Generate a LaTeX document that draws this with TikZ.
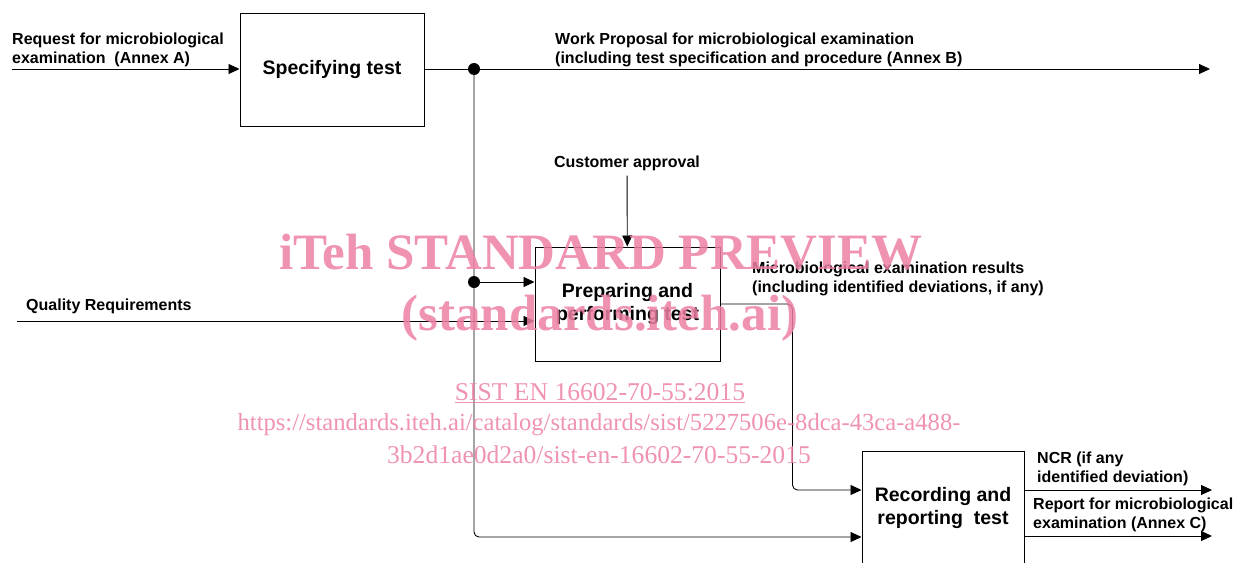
\documentclass[tikz,border=0pt]{standalone}
\usepackage{fontspec}
\setmainfont{Liberation Sans}
\newfontfamily\wmfont{Liberation Serif}
\usepackage{xcolor}
\usepackage{tikz}
\usetikzlibrary{positioning, calc, arrows.meta}

\definecolor{wmpink}{RGB}{236,128,162}
\newcommand{\lblfont}{\bfseries\fontsize{16}{18.5}\selectfont}
\newcommand{\boxfont}{\bfseries\fontsize{19.5}{23.5}\selectfont}

\begin{document}
\begin{tikzpicture}[
        x=1pt, y=-1pt,
        procbox/.style={draw, line width=1pt, align=center, inner sep=0pt, font=\boxfont},
        lbl/.style={align=left, inner sep=0pt, anchor=base west, font=\lblfont},
        flow/.style={line width=0.9pt, -{Triangle[length=11pt,width=10pt]}},
        jdot/.style={circle, fill, inner sep=0pt, minimum size=12pt},
        wmark/.style={text=wmpink, opacity=0.85, inner sep=0pt, anchor=base}
    ]
                \useasboundingbox (0,0) rectangle (1246,562);

                \node[procbox, minimum width=184pt, minimum height=113pt] (spec) at (332,69.5) {Specifying test};
                \node[procbox, minimum width=185pt, minimum height=114pt] (prep) at (627.5,304) {Preparing and\\performing test};
                \node[procbox, minimum width=162pt, minimum height=114pt] (rec) at (943,508) {Recording and\\reporting\ \ test};

                \node[lbl] (reqlbl) at (12,63) {Request for microbiological\\examination\ \ (Annex A)};
                \node[lbl] (wplbl) at (555,63) {Work Proposal for microbiological examination\\(including test specification and procedure (Annex B)};
                \node[lbl, anchor=base] (apprlbl) at (627,167) {Customer approval};
                \node[lbl] (qlbl) at (26,310) {Quality Requirements};
                \node[lbl] (reslbl) at (752,292) {Microbiological examination results\\(including identified deviations, if any)};
                \node[lbl] (ncrlbl) at (1037,482) {NCR (if any\\identified deviation)};
                \node[lbl] (replbl) at (1033,528) {Report for microbiological\\examination (Annex C)};

                \coordinate (reqin) at (12,69);
                \coordinate (wpout) at (1210,69);
                \coordinate (split) at (474,69);
                \coordinate (tap) at (474,282);
                \coordinate (qin) at (17,321);
                \coordinate (recin) at ($(rec.west)+(0,29)$);
                \coordinate (recres) at ($(rec.west)+(0,-18)$);
                \coordinate (ncrout) at (1212,490);
                \coordinate (repout) at (1212,536);

                \draw[flow] (reqin) -- (reqin -| spec.west);
                \draw[flow] (spec.east |- wpout) -- (wpout);
                \draw[
                    flow,
                    rounded corners=5pt
                ] (split) |- (recin);
                \draw[flow] (tap) -- (tap -| prep.west);
                \draw[flow] (qin) -- (qin -| prep.west);
                \draw[flow, shorten <=5pt] (apprlbl) -- (prep);
                \draw[
                    flow,
                    rounded corners=5pt
                ] (prep.east) -- ++(72,0) |- (recres);
                \draw[flow] (rec.east |- ncrout) -- (ncrout);
                \draw[flow] (rec.east |- repout) -- (repout);

                \node[jdot] (d1) at (split) {};
                \node[jdot] (d2) at (tap) {};

                \node[wmark, font=\wmfont\bfseries\fontsize{51}{51}\selectfont] (wm1) at (601,269) {iTeh STANDARD PREVIEW};
                \node[wmark, font=\wmfont\bfseries\fontsize{51}{51}\selectfont] (wm2) at (600,330) {(standards.iteh.ai)};
                \node[wmark, font=\wmfont\fontsize{25.6}{26}\selectfont] (wm3) at (600,400) {\underline{SIST EN 16602-70-55:2015}};
                \node[wmark, font=\wmfont\fontsize{24.6}{26}\selectfont] (wm4) at (599,430) {https://standards.iteh.ai/catalog/standards/sist/5227506e-8dca-43ca-a488-};
                \node[wmark, font=\wmfont\fontsize{25.6}{26}\selectfont] (wm5) at (599,463) {3b2d1ae0d2a0/sist-en-16602-70-55-2015};

            \end{tikzpicture}
\end{document}
